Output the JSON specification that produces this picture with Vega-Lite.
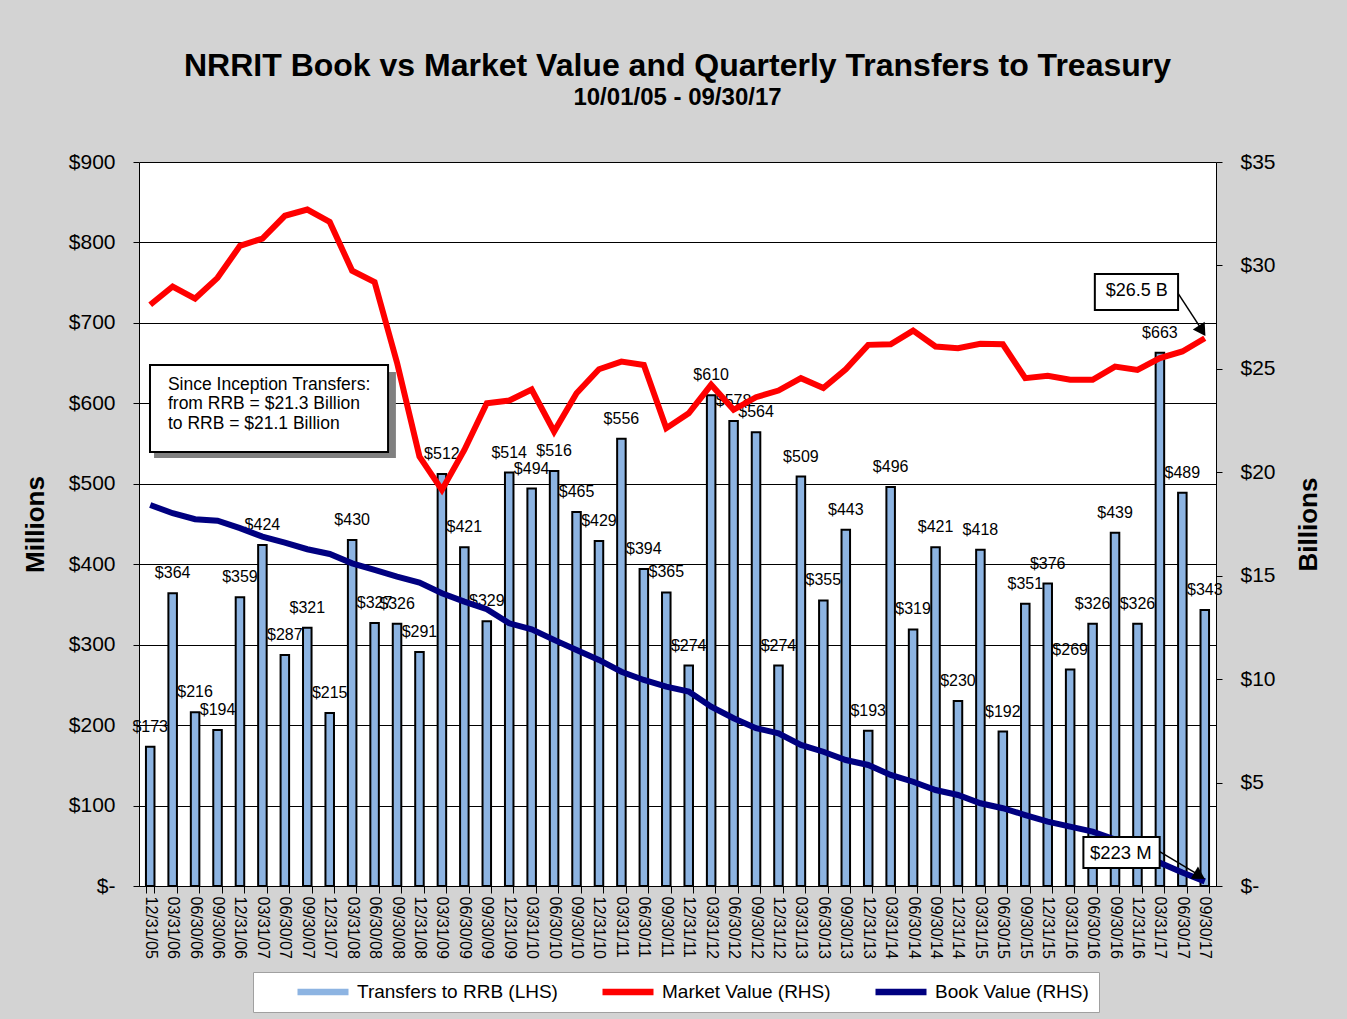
{
  "$schema": "https://vega.github.io/schema/vega-lite/v6.json",
  "width": 1077,
  "height": 724,
  "autosize": {"type": "none"},
  "padding": {"left": 139, "top": 162, "right": 131, "bottom": 133},
  "background": "#d3d3d3",
  "title": {
    "text": "NRRIT Book vs Market Value and Quarterly Transfers to Treasury",
    "subtitle": "10/01/05 - 09/30/17",
    "font": "Liberation Sans",
    "fontSize": 32,
    "fontWeight": "bold",
    "color": "black",
    "subtitleFont": "Liberation Sans",
    "subtitleFontSize": 24,
    "subtitleFontWeight": "bold",
    "subtitleColor": "black",
    "subtitlePadding": 3,
    "anchor": "middle",
    "frame": "group",
    "offset": 40
  },
  "config": {
    "view": {"stroke": null, "fill": "white"},
    "font": "Liberation Sans",
    "axis": {
      "labelFont": "Liberation Sans",
      "titleFont": "Liberation Sans",
      "labelColor": "black",
      "titleColor": "black",
      "domainColor": "black",
      "tickColor": "black",
      "gridColor": "black",
      "gridOpacity": 1,
      "gridWidth": 1
    }
  },
  "layer": [
    {
      "data": {
        "values": [
          {"q": "12/31/05", "transfers": 173, "market": 28.1, "book": 18.42},
          {"q": "03/31/06", "transfers": 364, "market": 28.98, "book": 18.02},
          {"q": "06/30/06", "transfers": 216, "market": 28.4, "book": 17.73},
          {"q": "09/30/06", "transfers": 194, "market": 29.4, "book": 17.66},
          {"q": "12/31/06", "transfers": 359, "market": 30.95, "book": 17.3},
          {"q": "03/31/07", "transfers": 424, "market": 31.3, "book": 16.89},
          {"q": "06/30/07", "transfers": 287, "market": 32.4, "book": 16.6},
          {"q": "09/30/07", "transfers": 321, "market": 32.7, "book": 16.28},
          {"q": "12/31/07", "transfers": 215, "market": 32.1, "book": 16.05},
          {"q": "03/31/08", "transfers": 430, "market": 29.74, "book": 15.6},
          {"q": "06/30/08", "transfers": 327, "market": 29.2, "book": 15.28},
          {"q": "09/30/08", "transfers": 326, "market": 25.3, "book": 14.96},
          {"q": "12/31/08", "transfers": 291, "market": 20.76, "book": 14.67},
          {"q": "03/31/09", "transfers": 512, "market": 19.15, "book": 14.15},
          {"q": "06/30/09", "transfers": 421, "market": 21.08, "book": 13.75},
          {"q": "09/30/09", "transfers": 329, "market": 23.34, "book": 13.38},
          {"q": "12/31/09", "transfers": 514, "market": 23.47, "book": 12.7},
          {"q": "03/31/10", "transfers": 494, "market": 24.0, "book": 12.41},
          {"q": "06/30/10", "transfers": 516, "market": 21.97, "book": 11.9},
          {"q": "09/30/10", "transfers": 465, "market": 23.82, "book": 11.41},
          {"q": "12/31/10", "transfers": 429, "market": 24.98, "book": 10.93},
          {"q": "03/31/11", "transfers": 556, "market": 25.35, "book": 10.36},
          {"q": "06/30/11", "transfers": 394, "market": 25.19, "book": 9.96},
          {"q": "09/30/11", "transfers": 365, "market": 22.13, "book": 9.64},
          {"q": "12/31/11", "transfers": 274, "market": 22.85, "book": 9.4},
          {"q": "03/31/12", "transfers": 610, "market": 24.23, "book": 8.67},
          {"q": "06/30/12", "transfers": 578, "market": 23.02, "book": 8.11},
          {"q": "09/30/12", "transfers": 564, "market": 23.63, "book": 7.63},
          {"q": "12/31/12", "transfers": 274, "market": 23.95, "book": 7.38},
          {"q": "03/31/13", "transfers": 509, "market": 24.55, "book": 6.82},
          {"q": "06/30/13", "transfers": 355, "market": 24.07, "book": 6.49},
          {"q": "09/30/13", "transfers": 443, "market": 24.98, "book": 6.09},
          {"q": "12/31/13", "transfers": 193, "market": 26.16, "book": 5.85},
          {"q": "03/31/14", "transfers": 496, "market": 26.19, "book": 5.37},
          {"q": "06/30/14", "transfers": 319, "market": 26.85, "book": 5.04},
          {"q": "09/30/14", "transfers": 421, "market": 26.08, "book": 4.64},
          {"q": "12/31/14", "transfers": 230, "market": 26.0, "book": 4.4},
          {"q": "03/31/15", "transfers": 418, "market": 26.21, "book": 4.0},
          {"q": "06/30/15", "transfers": 192, "market": 26.19, "book": 3.76},
          {"q": "09/30/15", "transfers": 351, "market": 24.55, "book": 3.43},
          {"q": "12/31/15", "transfers": 376, "market": 24.66, "book": 3.11},
          {"q": "03/31/16", "transfers": 269, "market": 24.47, "book": 2.87},
          {"q": "06/30/16", "transfers": 326, "market": 24.47, "book": 2.63},
          {"q": "09/30/16", "transfers": 439, "market": 25.11, "book": 2.25},
          {"q": "12/31/16", "transfers": 326, "market": 24.95, "book": 1.7},
          {"q": "03/31/17", "transfers": 663, "market": 25.52, "book": 1.12},
          {"q": "06/30/17", "transfers": 489, "market": 25.84, "book": 0.65},
          {"q": "09/30/17", "transfers": 343, "market": 26.48, "book": 0.223}
        ]
      },
      "layer": [
        {
          "layer": [
            {
              "mark": {"type": "bar", "stroke": "black", "strokeWidth": 2},
              "encoding": {
                "x": {
                  "field": "q", "type": "ordinal", "sort": null,
                  "scale": {"paddingInner": 0.62, "paddingOuter": 0.31},
                  "axis": {
                    "title": null, "labelAngle": 90, "labelFontSize": 16,
                    "tickBand": "extent", "tickSize": 7, "labelPadding": 3,
                    "grid": false
                  }
                },
                "y": {
                  "field": "transfers", "type": "quantitative",
                  "scale": {"domain": [0, 900], "nice": false},
                  "axis": {
                    "orient": "left",
                    "values": [0, 100, 200, 300, 400, 500, 600, 700, 800, 900],
                    "labelExpr": "datum.value == 0 ? '$-\u2007' : '$' + datum.value",
                    "grid": true, "tickSize": 6, "labelPadding": 18,
                    "labelFontSize": 21, "title": "Millions", "titleFontSize": 26,
                    "titleFontWeight": "bold", "titlePadding": 20
                  }
                },
                "color": {
                  "datum": "Transfers to RRB (LHS)", "type": "nominal",
                  "scale": {
                    "domain": ["Transfers to RRB (LHS)", "Market Value (RHS)", "Book Value (RHS)"],
                    "range": ["#8db4e2", "#ff0000", "#000080"]
                  },
                  "legend": {
                    "orient": "none", "legendX": 114, "legendY": 810,
                    "direction": "horizontal", "title": null,
                    "symbolSize": 400,
                    "symbolType": "M-2.55,-0.32H2.55V0.32H-2.55Z",
                    "symbolStrokeWidth": 0,
                    "symbolOpacity": 1,
                    "labelFontSize": 19, "labelFont": "Liberation Sans", "labelLimit": 400,
                    "labelColor": "black", "symbolOffset": 50, "columnPadding": 10,
                    "labelOffset": 24, "padding": 10, "fillColor": "white",
                    "strokeColor": "#a0a0a0"
                  }
                }
              }
            },
            {
              "mark": {"type": "text", "baseline": "middle", "dy": -20, "fontSize": 16, "color": "black"},
              "encoding": {
                "x": {"field": "q", "type": "ordinal", "sort": null},
                "y": {"field": "transfers", "type": "quantitative"},
                "text": {"field": "transfers", "type": "quantitative", "format": "$.0f"}
              }
            }
          ]
        },
        {
          "layer": [
            {
              "mark": {"type": "line", "strokeWidth": 6},
              "encoding": {
                "x": {"field": "q", "type": "ordinal", "sort": null},
                "y": {
                  "field": "market", "type": "quantitative",
                  "scale": {"domain": [0, 35], "nice": false},
                  "axis": {
                    "orient": "right",
                    "values": [0, 5, 10, 15, 20, 25, 30, 35],
                    "labelExpr": "datum.value == 0 ? '$-' : '$' + datum.value",
                    "grid": false, "tickSize": 6, "labelPadding": 18,
                    "labelFontSize": 21, "title": "Billions", "titleFontSize": 26,
                    "titleFontWeight": "bold", "titleAngle": 270, "titleBaseline": "top", "titlePadding": 20
                  }
                },
                "color": {"datum": "Market Value (RHS)", "type": "nominal"}
              }
            },
            {
              "mark": {"type": "line", "strokeWidth": 6},
              "encoding": {
                "x": {"field": "q", "type": "ordinal", "sort": null},
                "y": {
                  "field": "book", "type": "quantitative",
                  "scale": {"domain": [0, 35], "nice": false},
                  "axis": {
                    "orient": "right",
                    "values": [0, 5, 10, 15, 20, 25, 30, 35],
                    "labelExpr": "datum.value == 0 ? '$-' : '$' + datum.value",
                    "grid": false, "tickSize": 6, "labelPadding": 18,
                    "labelFontSize": 21, "title": "Billions", "titleFontSize": 26,
                    "titleFontWeight": "bold", "titleAngle": 270, "titleBaseline": "top", "titlePadding": 20
                  }
                },
                "color": {"datum": "Book Value (RHS)", "type": "nominal"}
              }
            }
          ]
        }
      ],
      "resolve": {"scale": {"y": "independent"}}
    },
    {
      "data": {"values": [{}]},
      "layer": [
        {
          "mark": {"type": "rect", "color": "#808080"},
          "encoding": {
            "x": {"datum": 0.67, "type": "quantitative", "scale": {"domain": [0, 48], "nice": false}, "axis": null},
            "x2": {"datum": 11.45},
            "y": {"datum": 639, "type": "quantitative", "scale": {"domain": [0, 900], "nice": false}, "axis": null},
            "y2": {"datum": 532}
          }
        },
        {
          "mark": {"type": "rect", "fill": "white", "stroke": "black", "strokeWidth": 2},
          "encoding": {
            "x": {"datum": 0.49, "type": "quantitative"},
            "x2": {"datum": 11.1},
            "y": {"datum": 647.7, "type": "quantitative"},
            "y2": {"datum": 539.5}
          }
        },
        {
          "mark": {"type": "text", "align": "left", "baseline": "middle", "fontSize": 17.5, "lineHeight": 19.5, "color": "black"},
          "encoding": {
            "x": {"datum": 1.29, "type": "quantitative"},
            "y": {"datum": 622.8, "type": "quantitative"},
            "text": {"value": ["Since Inception Transfers:", "from RRB = $21.3 Billion", "to RRB = $21.1 Billion"]}
          }
        },
        {
          "mark": {"type": "rect", "fill": "white", "stroke": "black", "strokeWidth": 2},
          "encoding": {
            "x": {"datum": 42.6, "type": "quantitative"},
            "x2": {"datum": 46.31},
            "y": {"datum": 760.8, "type": "quantitative"},
            "y2": {"datum": 716}
          }
        },
        {
          "mark": {"type": "text", "align": "center", "baseline": "middle", "fontSize": 18, "color": "black"},
          "encoding": {
            "x": {"datum": 44.47, "type": "quantitative"},
            "y": {"datum": 739.3, "type": "quantitative"},
            "text": {"value": "$26.5 B"}
          }
        },
        {
          "mark": {"type": "rule", "color": "black", "strokeWidth": 1.5},
          "encoding": {
            "x": {"datum": 46.31, "type": "quantitative"},
            "x2": {"datum": 47.4},
            "y": {"datum": 736.8, "type": "quantitative"},
            "y2": {"datum": 690}
          }
        },
        {
          "mark": {"type": "point", "shape": "triangle", "angle": 147, "size": 200, "filled": true, "color": "black", "opacity": 1},
          "encoding": {
            "x": {"datum": 47.33, "type": "quantitative"},
            "y": {"datum": 692.3, "type": "quantitative"}
          }
        },
        {
          "mark": {"type": "rect", "fill": "white", "stroke": "black", "strokeWidth": 2},
          "encoding": {
            "x": {"datum": 42.09, "type": "quantitative"},
            "x2": {"datum": 45.49},
            "y": {"datum": 60.9, "type": "quantitative"},
            "y2": {"datum": 22.4}
          }
        },
        {
          "mark": {"type": "text", "align": "center", "baseline": "middle", "fontSize": 18.5, "color": "black"},
          "encoding": {
            "x": {"datum": 43.76, "type": "quantitative"},
            "y": {"datum": 41.6, "type": "quantitative"},
            "text": {"value": "$223 M"}
          }
        },
        {
          "mark": {"type": "rule", "color": "black", "strokeWidth": 1.5},
          "encoding": {
            "x": {"datum": 45.49, "type": "quantitative"},
            "x2": {"datum": 47.3},
            "y": {"datum": 42.6, "type": "quantitative"},
            "y2": {"datum": 12.5}
          }
        },
        {
          "mark": {"type": "point", "shape": "triangle", "angle": 121, "size": 200, "filled": true, "color": "black", "opacity": 1},
          "encoding": {
            "x": {"datum": 47.19, "type": "quantitative"},
            "y": {"datum": 14.0, "type": "quantitative"}
          }
        }
      ]
    }
  ],
  "resolve": {"scale": {"x": "independent", "y": "independent"}}
}
